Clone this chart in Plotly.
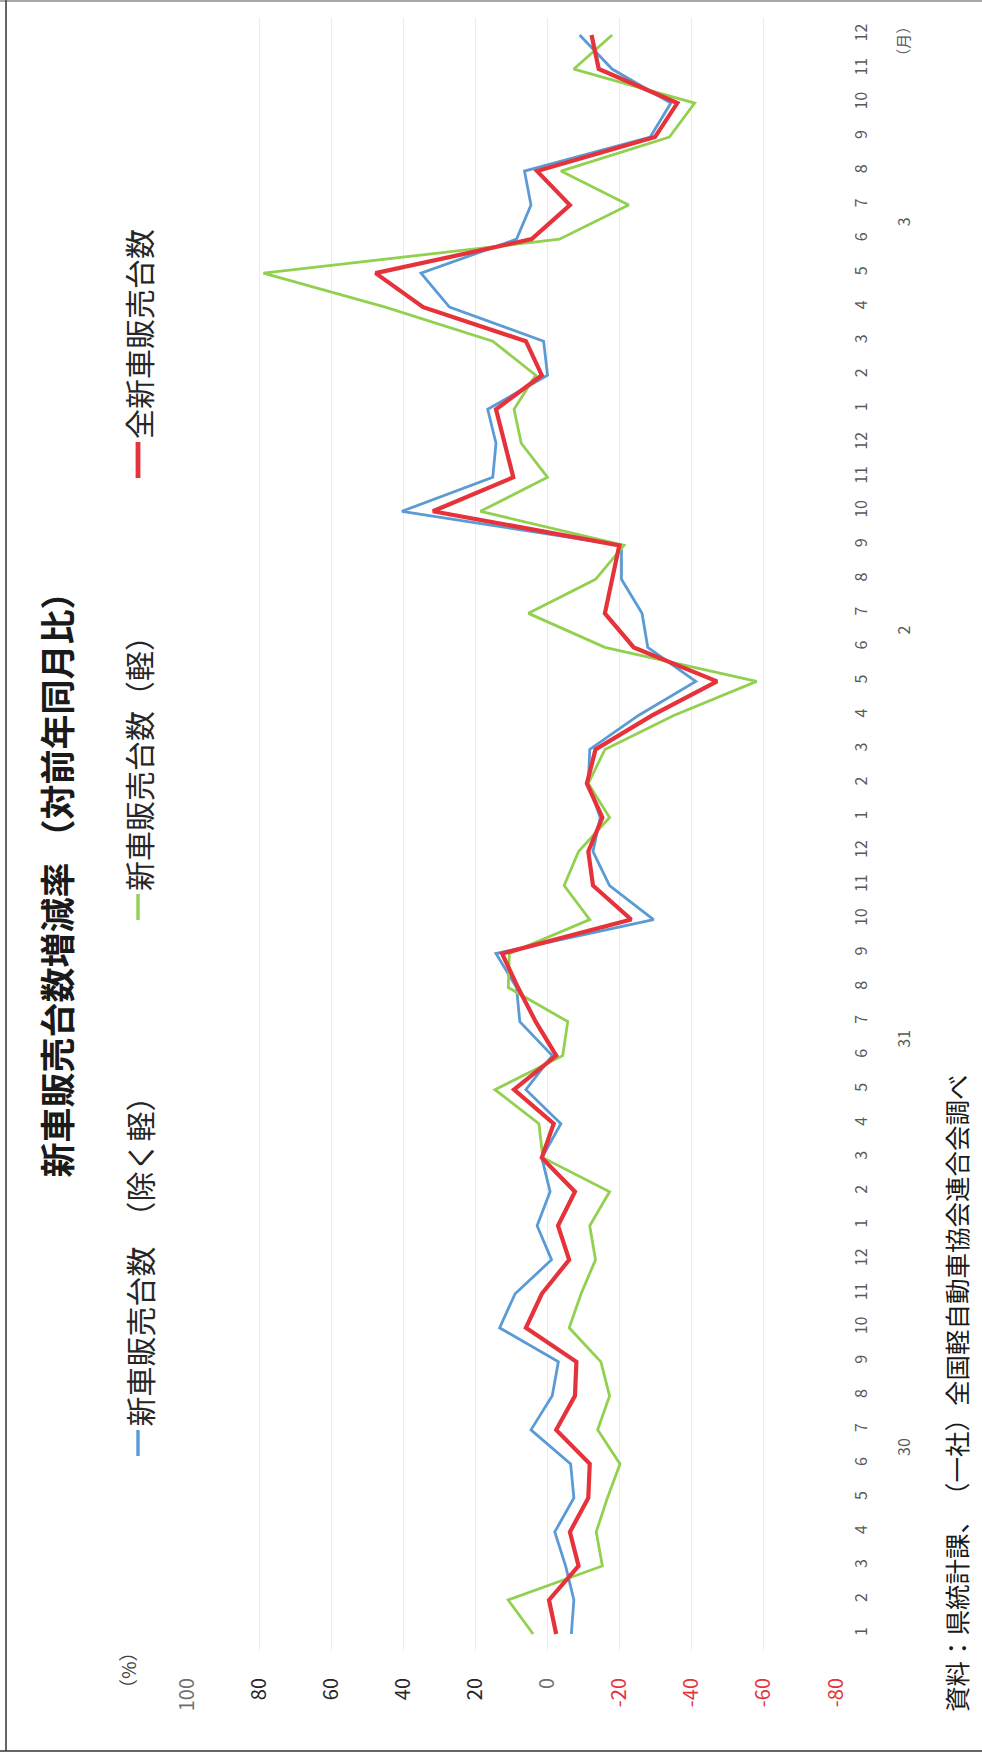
import plotly.graph_objects as go

# 月ラベル（平成30年1月〜令和3年12月）
months = [str(m) for m in range(1, 13)] * 4
years = ["30", "31", "2", "3"]

# 新車販売台数（除く軽）対前年同月比 (%)
excl_kei = [
    -6.6, -7.3, -5.0, -2.0, -7.3, -6.4, 4.6, -1.3, -3.0, 13.3, 9.0, -1.1,
    2.9, -0.7, 1.6, -3.7, 6.0, -1.3, 7.7, 8.6, 14.3, -29.4, -17.2, -12.6,
    -14.6, -11.3, -11.7, -25.2, -41.1, -27.8, -26.2, -20.5, -20.5, 40.4, 15.2, 14.3,
    16.6, 0.0, 1.1, 27.2, 35.1, 8.6, 4.6, 6.4, -28.5, -34.2, -17.9, -8.9,
]
# 新車販売台数（軽）
kei = [
    4.0, 10.9, -15.2, -13.5, -16.6, -20.1, -13.9, -17.2, -14.8, -6.0, -9.3, -13.3,
    -11.7, -17.2, 1.3, 2.4, 14.6, -4.2, -5.6, 10.9, 10.6, -11.7, -4.6, -8.6,
    -17.2, -11.3, -15.9, -35.0, -58.0, -15.9, 5.3, -13.3, -21.2, 18.6, 0.0, 7.3,
    9.3, 3.3, 15.2, 45.0, 78.8, -3.3, -22.5, -3.7, -33.8, -40.8, -7.3, -17.9,
]
# 全新車販売台数
total = [
    -2.4, -0.4, -8.6, -6.2, -11.3, -11.7, -2.4, -7.6, -8.0, 6.0, 1.6, -6.0,
    -2.9, -7.6, 1.6, -1.7, 9.3, -2.4, 3.3, 8.2, 12.6, -23.2, -12.6, -11.3,
    -15.2, -10.9, -13.3, -29.0, -47.0, -23.9, -15.9, -17.9, -19.9, 31.8, 9.5, 11.9,
    14.3, 1.6, 6.0, 34.5, 47.7, 4.4, -6.2, 2.9, -29.8, -36.0, -14.2, -12.2,
]
value_ticks = [100, 80, 60, 40, 20, 0, -20, -40, -60, -80]

W, H = 982, 1755
L, R, T, B = 187, 836, 18, 1651
JP = "Noto Sans CJK JP"

BLUE = "#5B9BD5"
GREEN = "#92D050"
RED = "#E5323B"


def px(x):
    return (x - L) / (R - L)


def py(y):
    return (B - y) / (B - T)


idx = list(range(len(months)))

fig = go.Figure()
fig.add_trace(go.Scatter(x=excl_kei, y=idx, mode="lines",
                         line=dict(color=BLUE, width=2.8), name="除く軽"))
fig.add_trace(go.Scatter(x=kei, y=idx, mode="lines",
                         line=dict(color=GREEN, width=2.8), name="軽"))
fig.add_trace(go.Scatter(x=total, y=idx, mode="lines",
                         line=dict(color=RED, width=4.2), name="全"))


def tick_text(v):
    if v < 0:
        col = RED
    elif v in (100, 0):
        col = "#707070"
    else:
        col = "#262626"
    return f'<span style="color:{col}">{v}</span>'


fig.update_xaxes(
    range=[100, -80], tickvals=value_ticks,
    ticktext=[tick_text(v) for v in value_ticks],
    tickangle=-90, tickfont=dict(family=JP, size=20),
    showgrid=True, gridcolor="#ECECEC", gridwidth=1,
    zeroline=False, showline=False, ticks="", ticklabelstandoff=22,
)
fig.update_yaxes(
    range=[-0.5, len(months) - 0.5], tickvals=idx, ticktext=months,
    side="right", tickangle=-90, tickfont=dict(family=JP, size=16, color="#595959"),
    showgrid=False, zeroline=False, showline=False, ticks="", ticklabelstandoff=14,
)

ann = []
# 年ラベル
for k, yr in enumerate(years):
    ann.append(dict(x=px(903), xref="paper", y=12 * k + 5.5, yref="y",
                    text=yr, textangle=-90, showarrow=False,
                    font=dict(family=JP, size=16, color="#595959"),
                    xanchor="center", yanchor="middle"))
ann.append(dict(x=px(903), xref="paper", y=46.8, yref="y", text="（月）",
                textangle=-90, showarrow=False,
                font=dict(family=JP, size=15, color="#595959"),
                xanchor="center", yanchor="middle"))
# (%)
ann.append(dict(x=px(128), xref="paper", y=py(1670), yref="paper", text="（%）",
                textangle=-90, showarrow=False,
                font=dict(family=JP, size=19, color="#404040"),
                xanchor="center", yanchor="middle"))
# タイトル
ann.append(dict(x=px(55), xref="paper", y=py(1180), yref="paper",
                text="<b>新車販売台数増減率 （対前年同月比）</b>",
                textangle=-90, showarrow=False,
                font=dict(family=JP, size=35, color="#1a1a1a"),
                xanchor="center", yanchor="bottom"))

# 凡例（線見本＋名称）
legend_items = [
    (BLUE, 2.8, "新車販売台数　（除く軽）", 1456, 1430, 1428),
    (GREEN, 2.8, "新車販売台数（軽）", 920, 894, 892),
    (RED, 4.2, "全新車販売台数", 478, 442, 440),
]
LEG_X = 138
shapes = []
for col, lw, label, y0, y1, ytext in legend_items:
    shapes.append(dict(type="line", xref="paper", yref="paper",
                       x0=px(LEG_X), x1=px(LEG_X), y0=py(y0), y1=py(y1),
                       line=dict(color=col, width=lw + 0.6)))
    ann.append(dict(x=px(LEG_X), xref="paper", y=py(ytext), yref="paper",
                    text=label, textangle=-90, showarrow=False,
                    font=dict(family=JP, size=30, color="#262626"),
                    xanchor="center", yanchor="bottom", borderpad=0))
# 資料
ann.append(dict(x=px(955), xref="paper", y=py(1714), yref="paper",
                text="資料：県統計課、　（一社）全国軽自動車協会連合会調べ",
                textangle=-90, showarrow=False,
                font=dict(family=JP, size=25.5, color="#1a1a1a"),
                xanchor="center", yanchor="bottom"))

# 外枠
shapes += [
    dict(type="line", xref="paper", yref="paper", x0=px(6), x1=px(6),
         y0=py(0), y1=py(1751), line=dict(color="#333333", width=1.5)),
    dict(type="line", xref="paper", yref="paper", x0=px(0), x1=px(W),
         y0=py(1751), y1=py(1751), line=dict(color="#333333", width=1.5)),
    dict(type="line", xref="paper", yref="paper", x0=px(0), x1=px(W),
         y0=py(1), y1=py(1), line=dict(color="#555555", width=1.2)),
]

fig.update_layout(
    width=W, height=H, autosize=False,
    margin=dict(l=L, r=W - R, t=T, b=H - B, pad=0),
    paper_bgcolor="white", plot_bgcolor="white",
    showlegend=False, annotations=ann, shapes=shapes,
    font=dict(family=JP),
)

fig.write_html("out.html")
